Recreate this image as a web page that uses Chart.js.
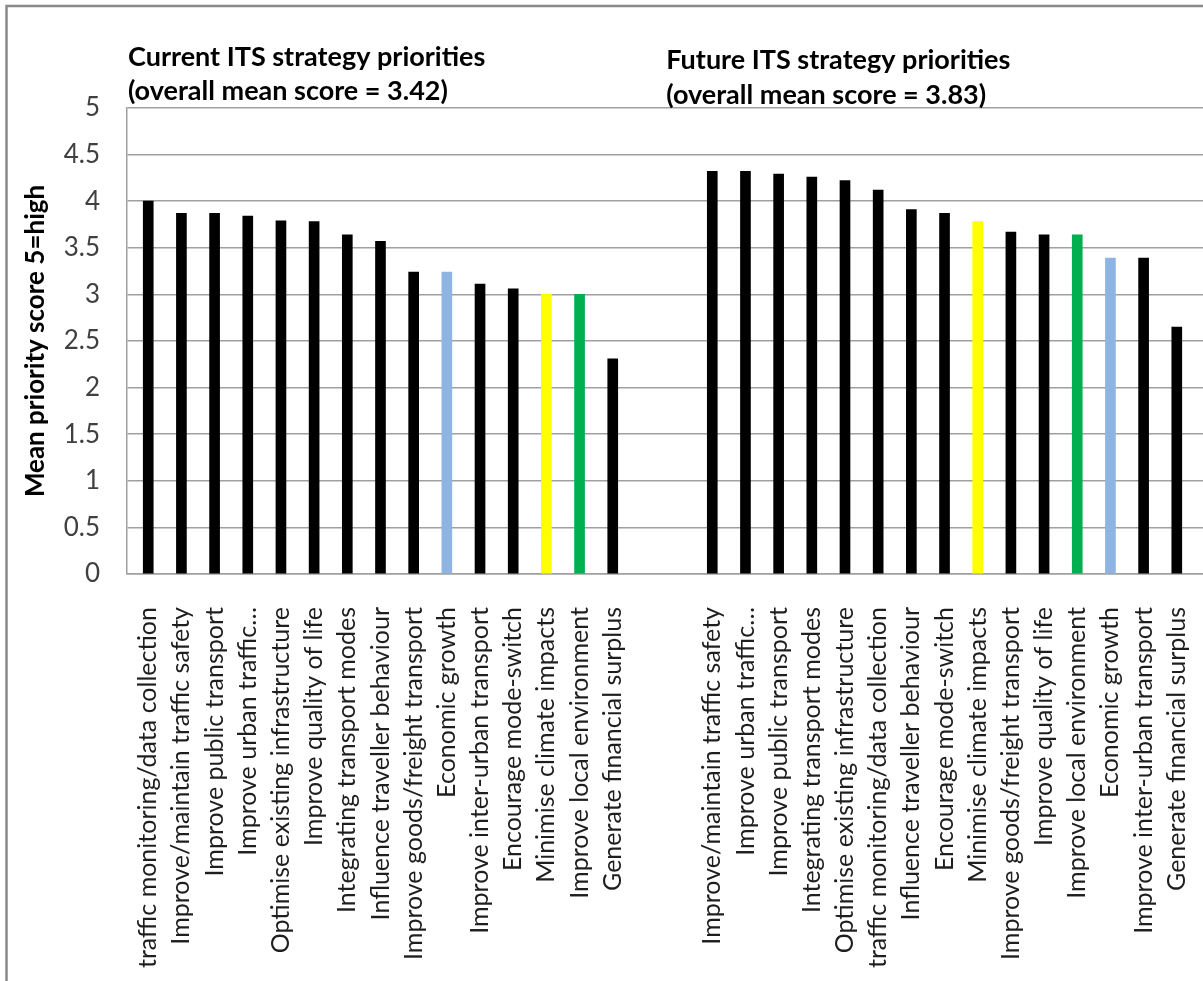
<!DOCTYPE html>
<html>
<head>
<meta charset="utf-8">
<script src="https://cdn.jsdelivr.net/npm/chart.js@4.4.1/dist/chart.umd.min.js"></script>
<style>
  html, body { margin: 0; padding: 0; background: #ffffff; }
  #wrap { position: relative; width: 1203px; height: 981px; }
</style>
</head>
<body>
<div id="wrap"><canvas id="chart"></canvas></div>
<script>
// Mean priority scores (1-5 scale), ranked within each panel
const currentLabels = [
  'traffic monitoring/data collection',
  'Improve/maintain traffic safety',
  'Improve public transport',
  'Improve urban traffic\u2026',
  'Optimise existing infrastructure',
  'Improve quality of life',
  'Integrating transport modes',
  'Influence traveller behaviour',
  'Improve goods/freight transport',
  'Economic growth',
  'Improve inter-urban transport',
  'Encourage mode-switch',
  'Minimise climate impacts',
  'Improve local environment',
  'Generate financial surplus'
];
const currentScores = [4.00, 3.87, 3.87, 3.84, 3.79, 3.78, 3.64, 3.57, 3.24, 3.24, 3.11, 3.06, 3.00, 3.00, 2.31];

const futureLabels = [
  'Improve/maintain traffic safety',
  'Improve urban traffic\u2026',
  'Improve public transport',
  'Integrating transport modes',
  'Optimise existing infrastructure',
  'traffic monitoring/data collection',
  'Influence traveller behaviour',
  'Encourage mode-switch',
  'Minimise climate impacts',
  'Improve goods/freight transport',
  'Improve quality of life',
  'Improve local environment',
  'Economic growth',
  'Improve inter-urban transport',
  'Generate financial surplus'
];
const futureScores = [4.32, 4.32, 4.29, 4.26, 4.22, 4.12, 3.91, 3.87, 3.78, 3.67, 3.64, 3.64, 3.39, 3.39, 2.65];

const yTickValues = [0, 0.5, 1, 1.5, 2, 2.5, 3, 3.5, 4, 4.5, 5];

const panelTitles = [
  ['Current ITS strategy priorities', '(overall mean score = 3.42)'],
  ['Future ITS strategy priorities', '(overall mean score = 3.83)']
];

// Strategy themes that are picked out in colour in both panels
const themeColours = {
  'Economic growth': '#8DB4E2',
  'Minimise climate impacts': '#FFFF00',
  'Improve local environment': '#00B050'
};
const defaultBarColour = '#000000';

// Two empty slots separate the panels on the shared category axis
const GAP_SLOTS = 2;
const futureOffset = currentLabels.length + GAP_SLOTS;
const axisLabels = [...currentLabels, ...Array(GAP_SLOTS).fill(''), ...futureLabels];

const toPoints = (scores, offset) => scores.map((y, i) => ({ x: offset + i, y }));
const coloursFor = labels => labels.map(l => themeColours[l] || defaultBarColour);

const FONT = 'Lato, "Open Sans", "DejaVu Sans", sans-serif';

// Chart frame and the two panel headings
const decorations = {
  id: 'decorations',
  beforeDraw(chart) {
    const ctx = chart.ctx;
    ctx.save();
    ctx.fillStyle = '#ffffff';
    ctx.fillRect(0, 0, chart.width, chart.height);
    ctx.strokeStyle = '#8a8a8a';
    ctx.lineWidth = 2.5;
    ctx.beginPath();
    ctx.moveTo(6.5, chart.height);
    ctx.lineTo(6.5, 6);
    ctx.lineTo(chart.width, 6);
    ctx.stroke();
    ctx.restore();
  },
  afterDraw(chart) {
    const ctx = chart.ctx;
    const xs = chart.scales.x;
    ctx.save();
    ctx.fillStyle = '#000000';
    ctx.font = 'bold 27px ' + FONT;
    ctx.textBaseline = 'alphabetic';
    ctx.textAlign = 'left';
    // Current panel heading starts at the plot's left edge
    const cx = chart.chartArea.left + 1;
    ctx.fillText(panelTitles[0][0], cx, 66);
    ctx.fillText(panelTitles[0][1], cx, 100);
    // Future panel heading sits above the future bars
    const fx = xs.getPixelForValue(futureOffset) - 46;
    ctx.fillText(panelTitles[1][0], fx, 69);
    ctx.fillText(panelTitles[1][1], fx, 104);
    ctx.restore();
  }
};

new Chart(document.getElementById('chart'), {
  type: 'bar',
  data: {
    datasets: [
      {
        label: 'Current',
        data: toPoints(currentScores, 0),
        backgroundColor: coloursFor(currentLabels),
        grouped: false
      },
      {
        label: 'Future',
        data: toPoints(futureScores, futureOffset),
        backgroundColor: coloursFor(futureLabels),
        grouped: false
      }
    ]
  },
  options: {
    responsive: true,
    maintainAspectRatio: false,
    animation: false,
    devicePixelRatio: 1,
    barThickness: 10,
    layout: { padding: { top: 108, left: 0, right: 0, bottom: 0 } },
    plugins: {
      legend: { display: false },
      tooltip: { enabled: false },
      title: { display: false }
    },
    scales: {
      x: {
        type: 'linear',
        offset: false,
        min: -0.64,
        max: 31.79,
        grid: { display: false, drawTicks: false, offset: false },
        border: { display: true, color: '#a0a0a0', width: 1.5 },
        afterBuildTicks(scale) {
          scale.ticks = axisLabels.map((_, i) => ({ value: i }));
        },
        afterFit(scale) {
          scale.height = 981 - 574;
          scale.paddingLeft = 0;
          scale.paddingRight = 0;
        },
        ticks: {
          autoSkip: false,
          minRotation: 90,
          maxRotation: 90,
          padding: 33,
          color: '#1e1e1e',
          font: { family: FONT, size: 25 },
          callback: v => axisLabels[v] ?? ''
        }
      },
      y: {
        min: 0,
        max: 5,
        grid: { color: '#a0a0a0', lineWidth: 1.5, drawTicks: false },
        border: { display: true, color: '#a0a0a0', width: 1.5 },
        afterBuildTicks(scale) {
          scale.ticks = yTickValues.map(v => ({ value: v }));
        },
        afterFit(scale) {
          scale.width = 127;
          scale.paddingTop = 0;
          scale.paddingBottom = 0;
        },
        ticks: {
          padding: 27,
          color: '#404040',
          font: { family: FONT, size: 26 },
          callback: v => String(v)
        },
        title: {
          display: true,
          text: 'Mean priority score 5=high',
          color: '#000000',
          font: { family: FONT, size: 26, weight: 'bold' },
          padding: { top: 20, bottom: 0 }
        }
      }
    }
  },
  plugins: [decorations]
});
</script>
</body>
</html>
